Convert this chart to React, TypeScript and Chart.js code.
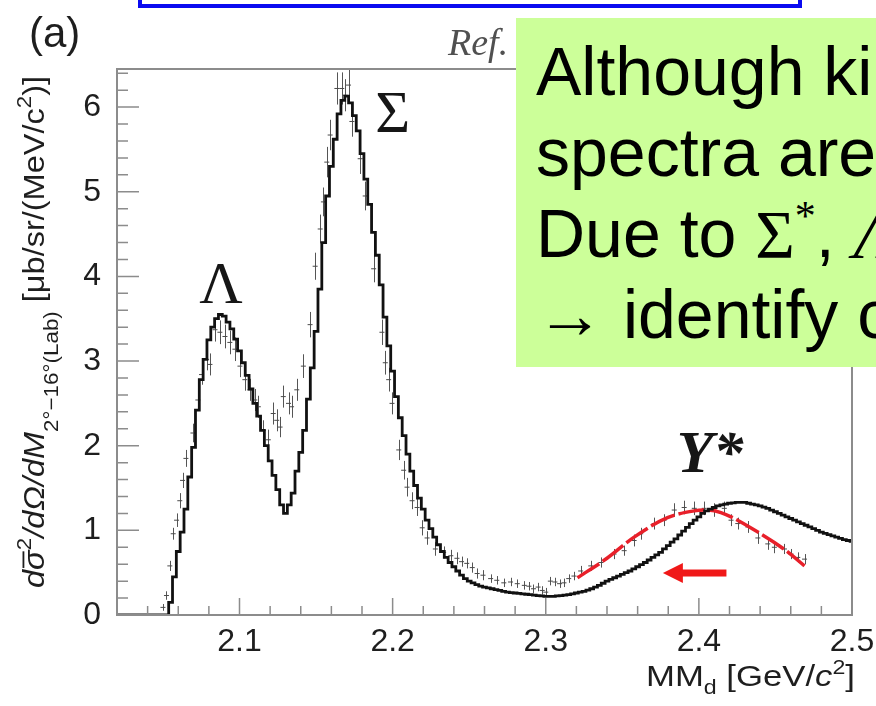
import React, { useEffect, useRef } from "react";
import { Chart, registerables } from "chart.js";

Chart.register(...registerables);

const SANS = '"Liberation Sans", Arial, Helvetica, sans-serif';
const SERIF = '"Liberation Serif", "Times New Roman", serif';

// axis ranges and tick labels
const X_MIN = 2.02;
const X_MAX = 2.5;
const Y_MIN = 0;
const Y_MAX = 6.45;
const X_TICKS = [2.1, 2.2, 2.3, 2.4, 2.5];
const Y_TICKS = [0, 1, 2, 3, 4, 5, 6];

// simulated spectrum, one value per 2.5 MeV bin, first bin centred at 2.020 GeV
const MODEL_FIRST_BIN = 2.02;
const MODEL_BIN_WIDTH = 0.0025;
const MODEL_VALUES = [
  0, 0, 0, 0, 0, 0, 0, 0, 0, 0,
  0, 0, 0, 0, 0.15, 0.45, 0.75, 0.98, 1.25, 1.63,
  1.98, 2.42, 2.78, 3.02, 3.25, 3.4, 3.5, 3.55, 3.53, 3.46,
  3.38, 3.26, 3.12, 2.98, 2.83, 2.67, 2.5, 2.35, 2.18, 2.0,
  1.82, 1.65, 1.48, 1.3, 1.2, 1.3, 1.44, 1.7, 1.92, 2.18,
  2.55, 2.92, 3.35, 3.85, 4.4, 4.95, 5.3, 5.62, 5.92, 6.08,
  6.13, 6.05, 5.9, 5.72, 5.45, 5.15, 4.85, 4.52, 4.25, 3.9,
  3.52, 3.18, 2.88, 2.58, 2.33, 2.12, 1.9, 1.7, 1.53, 1.38,
  1.25, 1.12, 1.02, 0.92, 0.83, 0.75, 0.68, 0.62, 0.57, 0.52,
  0.47, 0.43, 0.4, 0.38, 0.36, 0.34, 0.33, 0.32, 0.31, 0.3,
  0.29, 0.28, 0.27, 0.265, 0.26, 0.255, 0.25, 0.245, 0.24, 0.235,
  0.23, 0.225, 0.22, 0.22, 0.22, 0.225, 0.23, 0.235, 0.24, 0.25,
  0.26, 0.27, 0.28, 0.295, 0.31, 0.33, 0.35, 0.375, 0.4, 0.42,
  0.44, 0.46, 0.48, 0.5, 0.52, 0.545, 0.57, 0.595, 0.62, 0.65,
  0.68, 0.71, 0.74, 0.78, 0.82, 0.86, 0.9, 0.945, 0.99, 1.035,
  1.08, 1.12, 1.16, 1.2, 1.23, 1.25, 1.27, 1.29, 1.3, 1.31,
  1.32, 1.325, 1.33, 1.33, 1.33, 1.32, 1.31, 1.3, 1.29, 1.275,
  1.26, 1.24, 1.22, 1.2, 1.18, 1.16, 1.14, 1.12, 1.1, 1.08,
  1.06, 1.04, 1.02, 1.0, 0.98, 0.965, 0.95, 0.935, 0.92, 0.905,
  0.89, 0.88, 0.87,
];

// measured spectrum: missing mass, cross section, statistical error
const DATA_MM = [
  2.05, 2.0523, 2.0545, 2.0567, 2.0589, 2.061, 2.0628, 2.065, 2.0696, 2.0728,
  2.0752, 2.0785, 2.0807, 2.084, 2.0872, 2.0905, 2.0937, 2.097, 2.1003, 2.1035,
  2.1068, 2.11, 2.1123, 2.1155, 2.1188, 2.122, 2.1243, 2.1265, 2.1286, 2.132,
  2.134, 2.1374, 2.1417, 2.1461, 2.1494, 2.1527, 2.1548, 2.157, 2.1592, 2.1636,
  2.1668, 2.169, 2.1712, 2.1734, 2.1788, 2.1821, 2.1876, 2.193, 2.1952, 2.1974,
  2.1996, 2.204, 2.2072, 2.2094, 2.2127, 2.216, 2.2193, 2.2225, 2.2279, 2.2333,
  2.238, 2.242, 2.245, 2.2484, 2.252, 2.2552, 2.259, 2.264, 2.268, 2.2726,
  2.277, 2.2814, 2.286, 2.289, 2.292, 2.295, 2.2977, 2.3, 2.303, 2.306,
  2.309, 2.3119, 2.315, 2.3184, 2.3228, 2.3294, 2.336, 2.3446, 2.3512, 2.3577,
  2.362, 2.3708, 2.3773, 2.3839, 2.3904, 2.397, 2.4035, 2.41, 2.4166, 2.421,
  2.4254, 2.432, 2.4385, 2.445, 2.4493, 2.4559, 2.4602, 2.4646, 2.469,
];
const DATA_XS = [
  0.09, 0.23, 0.58, 0.96, 1.12, 1.35, 1.59, 1.85, 2.15, 2.54,
  2.84, 3.02, 2.96, 3.37, 3.34, 3.29, 3.22, 3.14, 2.94, 2.78,
  2.66, 2.54, 2.46, 2.18, 2.07, 2.38, 2.3, 2.22, 2.58, 2.5,
  2.46, 2.66, 2.94, 3.43, 4.12, 4.56, 4.88, 5.35, 5.67, 6.22,
  6.22, 6.14, 6.26, 5.83, 5.39, 4.95, 4.09, 3.34, 2.98, 2.78,
  2.5, 1.95, 1.71, 1.51, 1.35, 1.27, 1.03, 0.91, 0.78, 0.74,
  0.7, 0.67, 0.63, 0.61, 0.56, 0.49, 0.47, 0.43, 0.41, 0.38,
  0.39, 0.37, 0.35, 0.34, 0.31, 0.33, 0.29, 0.27, 0.4, 0.39,
  0.37, 0.38, 0.43, 0.46, 0.52, 0.58, 0.62, 0.72, 0.76, 0.88,
  0.96, 1.08, 1.12, 1.24, 1.27, 1.26, 1.26, 1.24, 1.26, 1.12,
  1.08, 1.04, 0.91, 0.84, 0.8, 0.78, 0.72, 0.68, 0.66,
];
const DATA_ERR = [
  0.04, 0.05, 0.06, 0.07, 0.08, 0.09, 0.09, 0.1, 0.11, 0.12,
  0.12, 0.13, 0.13, 0.14, 0.14, 0.14, 0.14, 0.14, 0.13, 0.13,
  0.13, 0.13, 0.13, 0.12, 0.12, 0.13, 0.13, 0.12, 0.13, 0.13,
  0.13, 0.13, 0.14, 0.15, 0.16, 0.17, 0.17, 0.18, 0.18, 0.19,
  0.19, 0.19, 0.19, 0.18, 0.18, 0.17, 0.16, 0.15, 0.14, 0.14,
  0.13, 0.12, 0.11, 0.11, 0.1, 0.1, 0.09, 0.08, 0.08, 0.07,
  0.07, 0.07, 0.06, 0.06, 0.06, 0.06, 0.06, 0.05, 0.05, 0.05,
  0.05, 0.05, 0.05, 0.05, 0.05, 0.05, 0.05, 0.05, 0.05, 0.05,
  0.05, 0.05, 0.05, 0.05, 0.06, 0.06, 0.06, 0.06, 0.06, 0.07,
  0.07, 0.07, 0.07, 0.08, 0.08, 0.08, 0.08, 0.08, 0.08, 0.07,
  0.07, 0.07, 0.07, 0.07, 0.07, 0.06, 0.06, 0.06, 0.06,
];

// fitted curve through the Y* bump
const FIT_MM = [2.3207, 2.34, 2.3577, 2.3795, 2.397, 2.405, 2.4144, 2.4385, 2.457, 2.469];
const FIT_XS = [0.44, 0.67, 0.92, 1.15, 1.23, 1.24, 1.21, 0.98, 0.76, 0.58];

// peak names, anchored in data coordinates
const PEAK_LABELS = [
  { text: "Λ", mm: 2.088, xs: 3.69, font: `60px ${SERIF}`, align: "center" },
  { text: "Σ", mm: 2.2, xs: 5.71, font: `60px ${SERIF}`, align: "center" },
  { text: "Y*", mm: 2.3855, xs: 1.69, font: `italic bold 60px ${SERIF}`, align: "left" },
];

// arrow marking the shift of the Y* bump
const ARROW_FROM = 2.418;
const ARROW_TO = 2.3765;
const ARROW_LEVEL = 0.496;

type Run = { t: string; f: string; dy?: number; bar?: boolean };

function runsWidth(ctx: CanvasRenderingContext2D, runs: Run[]) {
  let w = 0;
  for (const r of runs) {
    ctx.font = r.f;
    w += ctx.measureText(r.t).width;
  }
  return w;
}

function drawRuns(ctx: CanvasRenderingContext2D, runs: Run[], targetW: number) {
  const w = runsWidth(ctx, runs);
  ctx.save();
  ctx.scale(targetW / w, 1);
  let x = 0;
  for (const r of runs) {
    ctx.font = r.f;
    const rw = ctx.measureText(r.t).width;
    ctx.fillText(r.t, x, r.dy ?? 0);
    if (r.bar) {
      const size = parseFloat(r.f.replace(/^[a-z ]*/, ""));
      ctx.fillRect(x + rw * 0.1, -size * 0.74, rw * 0.85, 1.8);
    }
    x += rw;
  }
  ctx.restore();
}

const X_TITLE: Run[] = [
  { t: "MM", f: `30px ${SANS}` },
  { t: "d", f: `20px ${SANS}`, dy: 8 },
  { t: " [GeV/", f: `30px ${SANS}` },
  { t: "c", f: `italic 30px ${SANS}` },
  { t: "2", f: `20px ${SANS}`, dy: -12 },
  { t: "]", f: `30px ${SANS}` },
];

const Y_TITLE: Run[] = [
  { t: "d", f: `italic 29px ${SANS}` },
  { t: "σ", f: `italic 29px ${SANS}`, bar: true },
  { t: "2", f: `20px ${SANS}`, dy: -13 },
  { t: "/dΩ/dM", f: `italic 29px ${SANS}` },
  { t: "2°−16°(Lab)", f: `20px ${SANS}`, dy: 14 },
  { t: " [μb/sr/(MeV/c", f: `29px ${SANS}` },
  { t: "2", f: `20px ${SANS}`, dy: -13 },
  { t: ")]", f: `29px ${SANS}` },
];

const decorPlugin = {
  id: "decor",
  beforeDatasetsDraw(chart: any) {
    const { ctx, scales } = chart;
    const x = scales.x;
    const y = scales.y;
    ctx.save();
    ctx.strokeStyle = "#555555";
    ctx.lineWidth = 1;
    ctx.beginPath();
    DATA_MM.forEach((m, i) => {
      const px = Math.round(x.getPixelForValue(m)) + 0.5;
      ctx.moveTo(px, y.getPixelForValue(DATA_XS[i] - DATA_ERR[i]));
      ctx.lineTo(px, y.getPixelForValue(DATA_XS[i] + DATA_ERR[i]));
    });
    ctx.stroke();
    ctx.restore();
  },
  afterDatasetsDraw(chart: any) {
    const { ctx, chartArea, scales } = chart;
    const x = scales.x;
    const y = scales.y;
    const { left, right, top, bottom } = chartArea;
    ctx.save();

    // frame
    ctx.strokeStyle = "#8c8c8c";
    ctx.lineWidth = 2;
    ctx.strokeRect(left, top, right - left, bottom - top);

    // inward tick marks
    ctx.lineWidth = 1.5;
    ctx.beginPath();
    for (let k = 1; ; k++) {
      const v = X_MIN + k * 0.02;
      if (v > X_MAX + 1e-9) break;
      const major = Math.abs(v * 10 - Math.round(v * 10)) < 1e-6;
      const px = x.getPixelForValue(v);
      ctx.moveTo(px, bottom);
      ctx.lineTo(px, bottom - (major ? 17 : 9));
    }
    for (let k = 1; ; k++) {
      const v = Y_MIN + k * 0.2;
      if (v > Y_MAX) break;
      const major = Math.abs(v - Math.round(v)) < 1e-6;
      const py = y.getPixelForValue(v);
      ctx.moveTo(left, py);
      ctx.lineTo(left + (major ? 22 : 11), py);
    }
    ctx.stroke();

    // peak names
    ctx.fillStyle = "#161616";
    ctx.textBaseline = "alphabetic";
    for (const l of PEAK_LABELS) {
      ctx.font = l.font;
      ctx.textAlign = l.align as CanvasTextAlign;
      ctx.fillText(l.text, x.getPixelForValue(l.mm), y.getPixelForValue(l.xs));
    }

    // shift arrow
    const tipX = x.getPixelForValue(ARROW_TO);
    const tailX = x.getPixelForValue(ARROW_FROM);
    const ay = y.getPixelForValue(ARROW_LEVEL);
    ctx.fillStyle = "#f01818";
    ctx.fillRect(tipX + 19, ay - 3.5, tailX - tipX - 19, 7);
    ctx.beginPath();
    ctx.moveTo(tipX, ay);
    ctx.lineTo(tipX + 20, ay - 10);
    ctx.lineTo(tipX + 20, ay + 10);
    ctx.closePath();
    ctx.fill();
    ctx.restore();
  },
  afterDraw(chart: any) {
    const { ctx, chartArea } = chart;
    ctx.save();
    ctx.fillStyle = "#1e1e1e";
    ctx.textAlign = "left";
    ctx.textBaseline = "alphabetic";

    // x-axis title, right-aligned to the frame
    ctx.save();
    ctx.translate(chartArea.right - 206, 686);
    drawRuns(ctx, X_TITLE, 209);
    ctx.restore();

    // y-axis title, reading upwards
    ctx.save();
    ctx.translate(44, 588);
    ctx.rotate(-Math.PI / 2);
    drawRuns(ctx, Y_TITLE, 512);
    ctx.restore();

    // panel tag and reference mark
    ctx.font = `42px ${SANS}`;
    ctx.fillText("(a)", 29, 47);
    ctx.fillStyle = "#505050";
    ctx.font = `italic 38px ${SERIF}`;
    ctx.fillText("Ref.", 448, 55);
    ctx.restore();
  },
};

export default function App() {
  const canvasRef = useRef<HTMLCanvasElement | null>(null);

  useEffect(() => {
    const canvas = canvasRef.current;
    if (!canvas) return;
    const modelPoints = MODEL_VALUES.map((v, i) => ({
      x: MODEL_FIRST_BIN + i * MODEL_BIN_WIDTH,
      y: v,
    }));
    const dataPoints = DATA_MM.map((m, i) => ({ x: m, y: DATA_XS[i] }));
    const fitPoints = FIT_MM.map((m, i) => ({ x: m, y: FIT_XS[i] }));

    const tickFont = { family: SANS, size: 32 };
    const chart = new Chart(canvas, {
      type: "line",
      data: {
        datasets: [
          {
            label: "model",
            data: modelPoints,
            stepped: "middle",
            borderColor: "#111111",
            borderWidth: 2.8,
            pointRadius: 0,
            fill: false,
          },
          {
            label: "fit",
            data: fitPoints,
            borderColor: "#e8202a",
            borderWidth: 3.5,
            borderDash: [26, 4],
            cubicInterpolationMode: "monotone",
            pointRadius: 0,
            fill: false,
          },
          {
            label: "data",
            data: dataPoints,
            showLine: false,
            pointStyle: "line",
            pointRadius: 2.5,
            pointBorderColor: "#4a4a4a",
            pointBorderWidth: 1,
          },
        ],
      },
      options: {
        responsive: false,
        animation: false,
        devicePixelRatio: 1,
        layout: { padding: { left: 0, right: 24, top: 69, bottom: 0 } },
        plugins: { legend: { display: false }, tooltip: { enabled: false } },
        scales: {
          x: {
            type: "linear",
            min: X_MIN,
            max: X_MAX,
            grid: { display: false, drawTicks: false },
            border: { display: false },
            afterBuildTicks: (s: any) => {
              s.ticks = X_TICKS.map((v) => ({ value: v }));
            },
            afterFit: (s: any) => {
              s.height = 91;
              s.paddingLeft = 0;
              s.paddingRight = 0;
            },
            ticks: {
              font: tickFont,
              color: "#1e1e1e",
              padding: 8,
              maxRotation: 0,
              autoSkip: false,
              callback: (v: any) => Number(v).toFixed(1),
            },
          },
          y: {
            type: "linear",
            min: Y_MIN,
            max: Y_MAX,
            grid: { display: false, drawTicks: false },
            border: { display: false },
            afterBuildTicks: (s: any) => {
              s.ticks = Y_TICKS.map((v) => ({ value: v }));
            },
            afterFit: (s: any) => {
              s.width = 117;
              s.paddingTop = 0;
              s.paddingBottom = 0;
            },
            ticks: {
              font: tickFont,
              color: "#1e1e1e",
              padding: 16,
              autoSkip: false,
              callback: (v: any) => String(v),
            },
          },
        },
      },
      plugins: [decorPlugin],
    } as any);
    return () => chart.destroy();
  }, []);

  const lineStyle: React.CSSProperties = { whiteSpace: "nowrap", height: 81 };
  return (
    <div
      style={{
        position: "fixed",
        left: 0,
        top: 0,
        width: 876,
        height: 706,
        overflow: "hidden",
        background: "#ffffff",
      }}
    >
      <canvas ref={canvasRef} width={876} height={706} style={{ display: "block" }} />
      <div
        style={{
          position: "absolute",
          left: 138,
          top: -40,
          width: 664,
          height: 48,
          boxSizing: "border-box",
          border: "4px solid #0a0af0",
          background: "#ffffff",
        }}
      />
      <div
        style={{
          position: "absolute",
          left: 516,
          top: 18,
          width: 420,
          height: 349,
          boxSizing: "border-box",
          background: "#ccff99",
          padding: "13px 0 0 20px",
          fontFamily: SANS,
          fontSize: 68,
          lineHeight: "81px",
          color: "#000000",
        }}
      >
        <div style={lineStyle}>Although kinematical</div>
        <div style={lineStyle}>spectra are</div>
        <div style={lineStyle}>
          Due to <span style={{ fontFamily: SERIF }}>Σ</span>
          <span style={{ fontFamily: SERIF, fontSize: 42, position: "relative", top: -27 }}>*</span>
          , <span style={{ fontFamily: SERIF, fontStyle: "italic" }}>Λ</span>
        </div>
        <div style={lineStyle}>
          <span style={{ fontFamily: SERIF }}>→</span> identify c
        </div>
      </div>
    </div>
  );
}
